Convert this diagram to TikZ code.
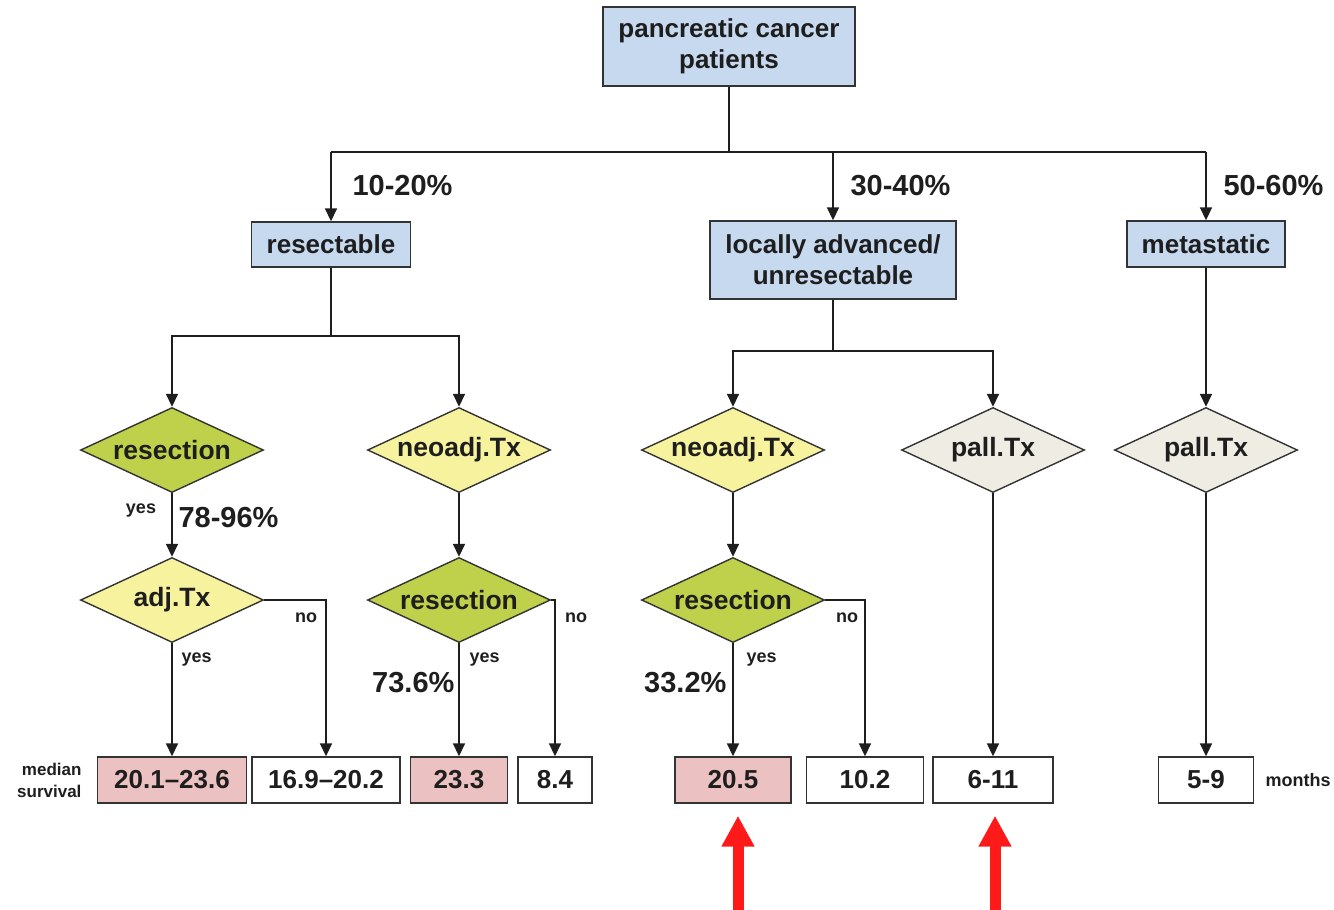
\documentclass[tikz,border=0pt]{standalone}
\usepackage{fontspec}
\setmainfont{Liberation Sans}
\usetikzlibrary{shapes.geometric,arrows.meta}
\definecolor{boxblue}{HTML}{C6D9EF}
\definecolor{dgreen}{HTML}{BFD04B}
\definecolor{lyellow}{HTML}{F6F29E}
\definecolor{beige}{HTML}{EFEDE3}
\definecolor{spink}{HTML}{ECC1C1}
\definecolor{ink}{HTML}{1E1E1E}
\definecolor{edge}{HTML}{333333}
\definecolor{redarrow}{HTML}{FF1A1A}
\begin{document}
\begin{tikzpicture}[x=1pt,y=-1pt,
  font=\fontsize{26}{31}\selectfont\bfseries, text=ink,
  bx/.style={rectangle, draw=edge, line width=1.4pt, inner sep=0pt, align=center},
  dia/.style={diamond, aspect=2.13, draw=edge, line width=1.4pt, inner sep=0pt,
              minimum width=183pt, minimum height=85pt, font=\fontsize{26.5}{31}\selectfont\bfseries},
  conn/.style={draw=ink, line width=1.7pt},
  arr/.style={conn, -{Triangle[width=12pt,length=13pt]}},
  pct/.style={font=\fontsize{29}{31}\selectfont\bfseries},
  small/.style={font=\fontsize{18}{22}\selectfont\bfseries},
  bot/.style={bx, minimum height=46pt},
  redarr/.style={draw=redarrow, line width=11pt, -{Triangle[width=31pt,length=31pt]}}
  ]
\useasboundingbox (0,0) rectangle (1334,910);

% top level boxes
\node[bx, fill=boxblue, minimum width=252pt, minimum height=79pt] (top) at (729,46.5) {pancreatic cancer\\patients};
\node[bx, fill=boxblue, minimum width=159pt, minimum height=45pt] (res) at (331,244.5) {resectable};
\node[bx, fill=boxblue, minimum width=246pt, minimum height=78pt] (loc) at (833,260) {locally advanced/\\unresectable};
\node[bx, fill=boxblue, minimum width=158pt, minimum height=46pt] (met) at (1206,244) {metastatic};

% diamonds row 1
\node[dia, fill=dgreen] (d1) at (172,450) {resection};
\node[dia, fill=lyellow] (d2) at (459,450) {neoadj.Tx};
\node[dia, fill=lyellow] (d3) at (733,450) {neoadj.Tx};
\node[dia, fill=beige] (d4) at (993,450) {pall.Tx};
\node[dia, fill=beige] (d5) at (1206,450) {pall.Tx};

% diamonds row 2
\node[dia, fill=lyellow] (e1) at (172,600) {adj.Tx};
\node[dia, fill=dgreen] (e2) at (459,600) {resection};
\node[dia, fill=dgreen] (e3) at (733,600) {resection};

% bottom boxes
\node[bot, fill=spink, minimum width=149pt] (b1) at (172,780) {20.1–23.6};
\node[bot, fill=white, minimum width=148pt] (b2) at (326,780) {16.9–20.2};
\node[bot, fill=spink, minimum width=97pt] (b3) at (459,780) {23.3};
\node[bot, fill=white, minimum width=74pt] (b4) at (555,780) {8.4};
\node[bot, fill=spink, minimum width=116pt] (b5) at (733,780) {20.5};
\node[bot, fill=white, minimum width=117pt] (b6) at (865,780) {10.2};
\node[bot, fill=white, minimum width=120pt] (b7) at (993,780) {6-11};
\node[bot, fill=white, minimum width=95pt] (b8) at (1206,780) {5-9};

% connectors level 1
\coordinate (hl) at (331,152);
\coordinate (hr) at (1206,152);
\draw[conn] (top.south) -- (top.south |- hl);
\draw[conn] (hl) -- (hr);
\draw[arr] (hl) -- (res.north);
\draw[arr] (loc.north |- hl) -- (loc.north);
\draw[arr] (hr) -- (met.north);

% resectable split
\coordinate (sr) at (331,336);
\draw[conn] (res.south) -- (sr);
\draw[arr] (sr) -| (d1.north);
\draw[arr] (sr) -| (d2.north);

% locally advanced split
\coordinate (sl) at (833,351);
\draw[conn] (loc.south) -- (sl);
\draw[arr] (sl) -| (d3.north);
\draw[arr] (sl) -| (d4.north);

\draw[arr] (met.south) -- (d5.north);

% row1 to row2
\draw[arr] (d1.south) -- (e1.north);
\draw[arr] (d2.south) -- (e2.north);
\draw[arr] (d3.south) -- (e3.north);

% to bottom boxes
\draw[arr] (e1.south) -- (b1.north);
\draw[arr] (e1.east) -| (b2.north);
\draw[arr] (e2.south) -- (b3.north);
\draw[arr] (e2.east) -| (b4.north);
\draw[arr] (e3.south) -- (b5.north);
\draw[arr] (e3.east) -| (b6.north);
\draw[arr] (d4.south) -- (b7.north);
\draw[arr] (d5.south) -- (b8.north);

% percentages
\node[pct, anchor=west] (p1) at (349,186) {10-20\%};
\node[pct, anchor=west] (p2) at (847,186) {30-40\%};
\node[pct, anchor=west] (p3) at (1220,186) {50-60\%};
\node[pct, anchor=west] (p4) at (175,518) {78-96\%};
\node[pct, anchor=east] (p5) at (458,683) {73.6\%};
\node[pct, anchor=east] (p6) at (730,683) {33.2\%};

% yes / no
\node[small] (y1) at (141,511) {yes};
\node[small, anchor=west] (y2) at (178,660) {yes};
\node[small, anchor=west] (y3) at (466,660) {yes};
\node[small, anchor=west] (y4) at (743,660) {yes};
\node[small] (n1) at (306,618) {no};
\node[small] (n2) at (576,618) {no};
\node[small] (n3) at (847,618) {no};

% side labels
\node[font=\fontsize{17}{22}\selectfont\bfseries, align=right, anchor=east] (ms) at (85,780) {median\\survival};
\node[small, anchor=west] (mo) at (1262,780) {months};

% red arrows
\coordinate (ra1) at (738,910);
\coordinate (ra2) at (995,910);
\draw[redarr] (ra1) -- ([xshift=5pt,yshift=-12pt]b5.south);
\draw[redarr] (ra2) -- ([xshift=2pt,yshift=-12pt]b7.south);
\end{tikzpicture}
\end{document}
